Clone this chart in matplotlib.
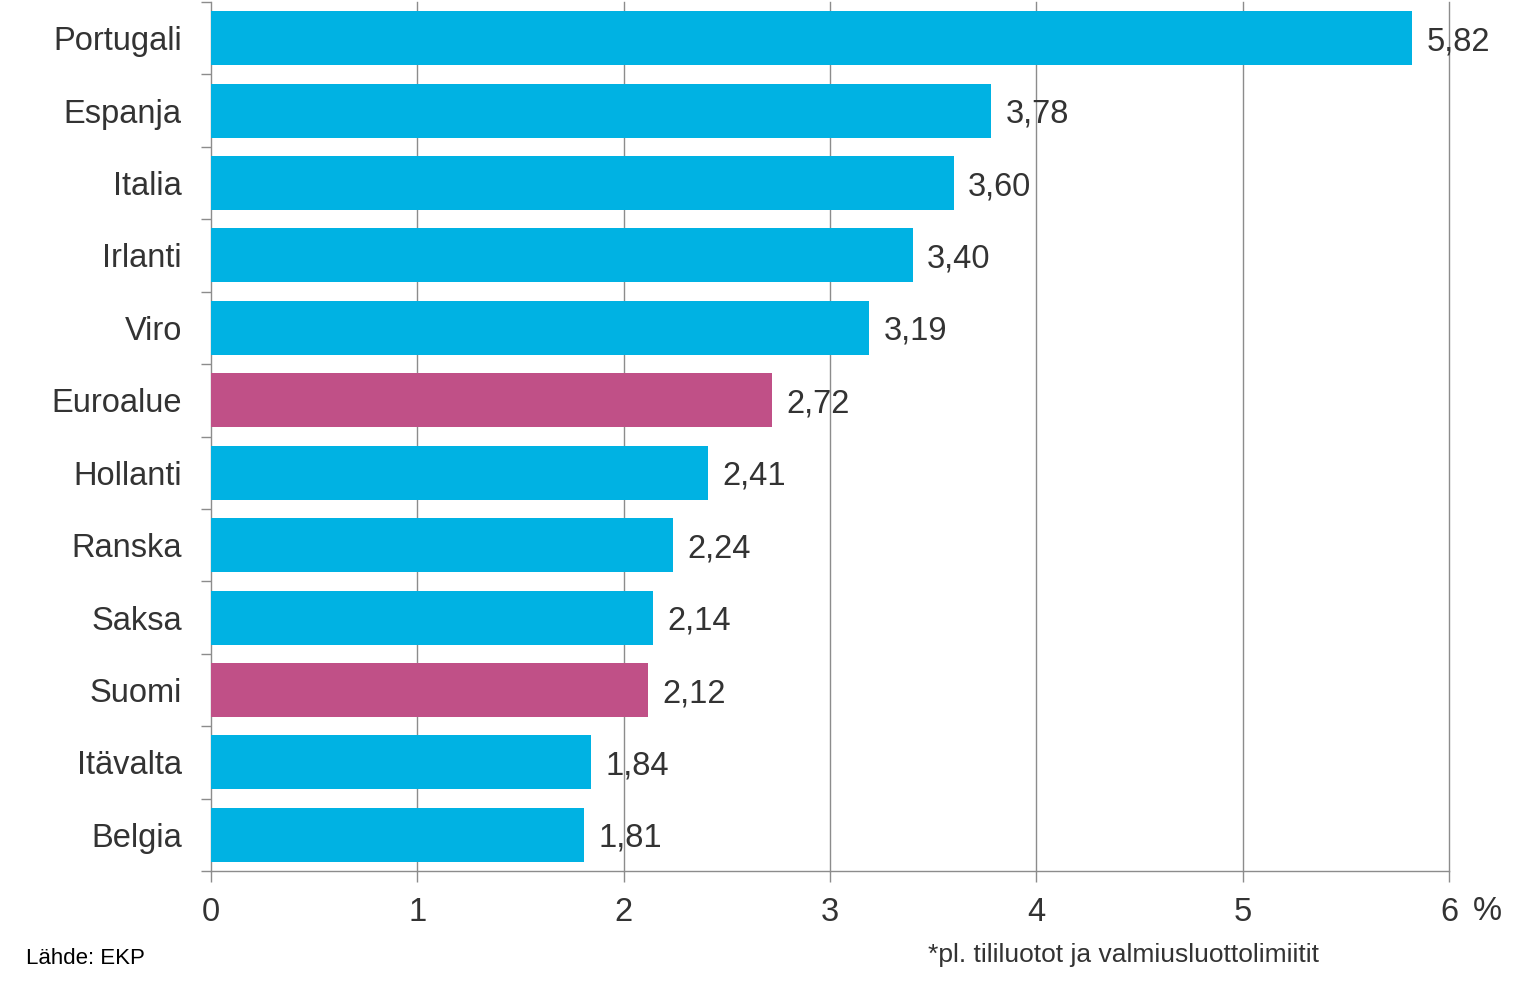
import matplotlib
matplotlib.use("Agg")
import matplotlib.pyplot as plt
import numpy as np

# data (top to bottom)
countries = ["Portugali", "Espanja", "Italia", "Irlanti", "Viro", "Euroalue",
             "Hollanti", "Ranska", "Saksa", "Suomi", "Itävalta", "Belgia"]
values = [5.82, 3.78, 3.60, 3.40, 3.19, 2.72, 2.41, 2.24, 2.14, 2.12, 1.84, 1.81]
highlight = ["Euroalue", "Suomi"]
x_ticks = [0, 1, 2, 3, 4, 5, 6]

CYAN = "#00B2E3"
MAGENTA = "#C05087"
TEXT = "#333333"
GRID = "#8C8C8C"
FS = 23.5

plt.rcParams['font.family'] = ['Liberation Sans', 'DejaVu Sans']

fig = plt.figure(figsize=(15.27, 9.93), dpi=100)
ax = fig.add_axes([211 / 1527, 1 - 871 / 993, (1449 - 211) / 1527, (871 - 2) / 993])

n = len(countries)
ypos = np.arange(n)[::-1]
colors = [MAGENTA if c in highlight else CYAN for c in countries]
ax.barh(ypos, values, height=0.745, color=colors, zorder=3)

for y, v in zip(ypos, values):
    ax.text(v + 0.07, y - 0.05, f"{v:.2f}".replace(".", ","), va="center", ha="left",
            fontsize=FS, color=TEXT, zorder=4)

ax.set_xlim(0, 6)
ax.set_ylim(-0.5, n - 0.5)
ax.set_xticks(x_ticks)
ax.set_xticklabels([str(t) for t in x_ticks], fontsize=FS, color=TEXT)
ax.tick_params(axis="x", length=8, width=1, color=GRID, pad=11)

# category labels at centers, tick marks at boundaries
ax.set_yticks(ypos)
ax.set_yticklabels(countries, fontsize=FS, color=TEXT)
ax.tick_params(axis="y", length=0, pad=21)
ax.set_yticks(np.arange(n + 1) - 0.5, minor=True)
ax.tick_params(axis="y", which="minor", length=7.5, width=1, color=GRID)

ax.xaxis.grid(False)
for t in x_ticks[1:]:
    ax.axvline(t, color=GRID, linewidth=1, zorder=0, clip_on=False)
for s in ["top", "right"]:
    ax.spines[s].set_visible(False)
for s in ["left", "bottom"]:
    ax.spines[s].set_color(GRID)
    ax.spines[s].set_linewidth(1)

fig.text(1473 / 1527, 1 - 911 / 993, "%", fontsize=FS, color=TEXT, ha="left", va="center")
fig.text(26 / 1527, 1 - 958 / 993, "Lähde: EKP", fontsize=16, color="black", ha="left", va="center")
fig.text(928 / 1527, 1 - 955 / 993, "*pl. tililuotot ja valmiusluottolimiitit", fontsize=19,
         color=TEXT, ha="left", va="center",
         family=['Liberation Sans Narrow', 'Liberation Sans', 'DejaVu Sans'])

fig.savefig("out.png", dpi=100)
